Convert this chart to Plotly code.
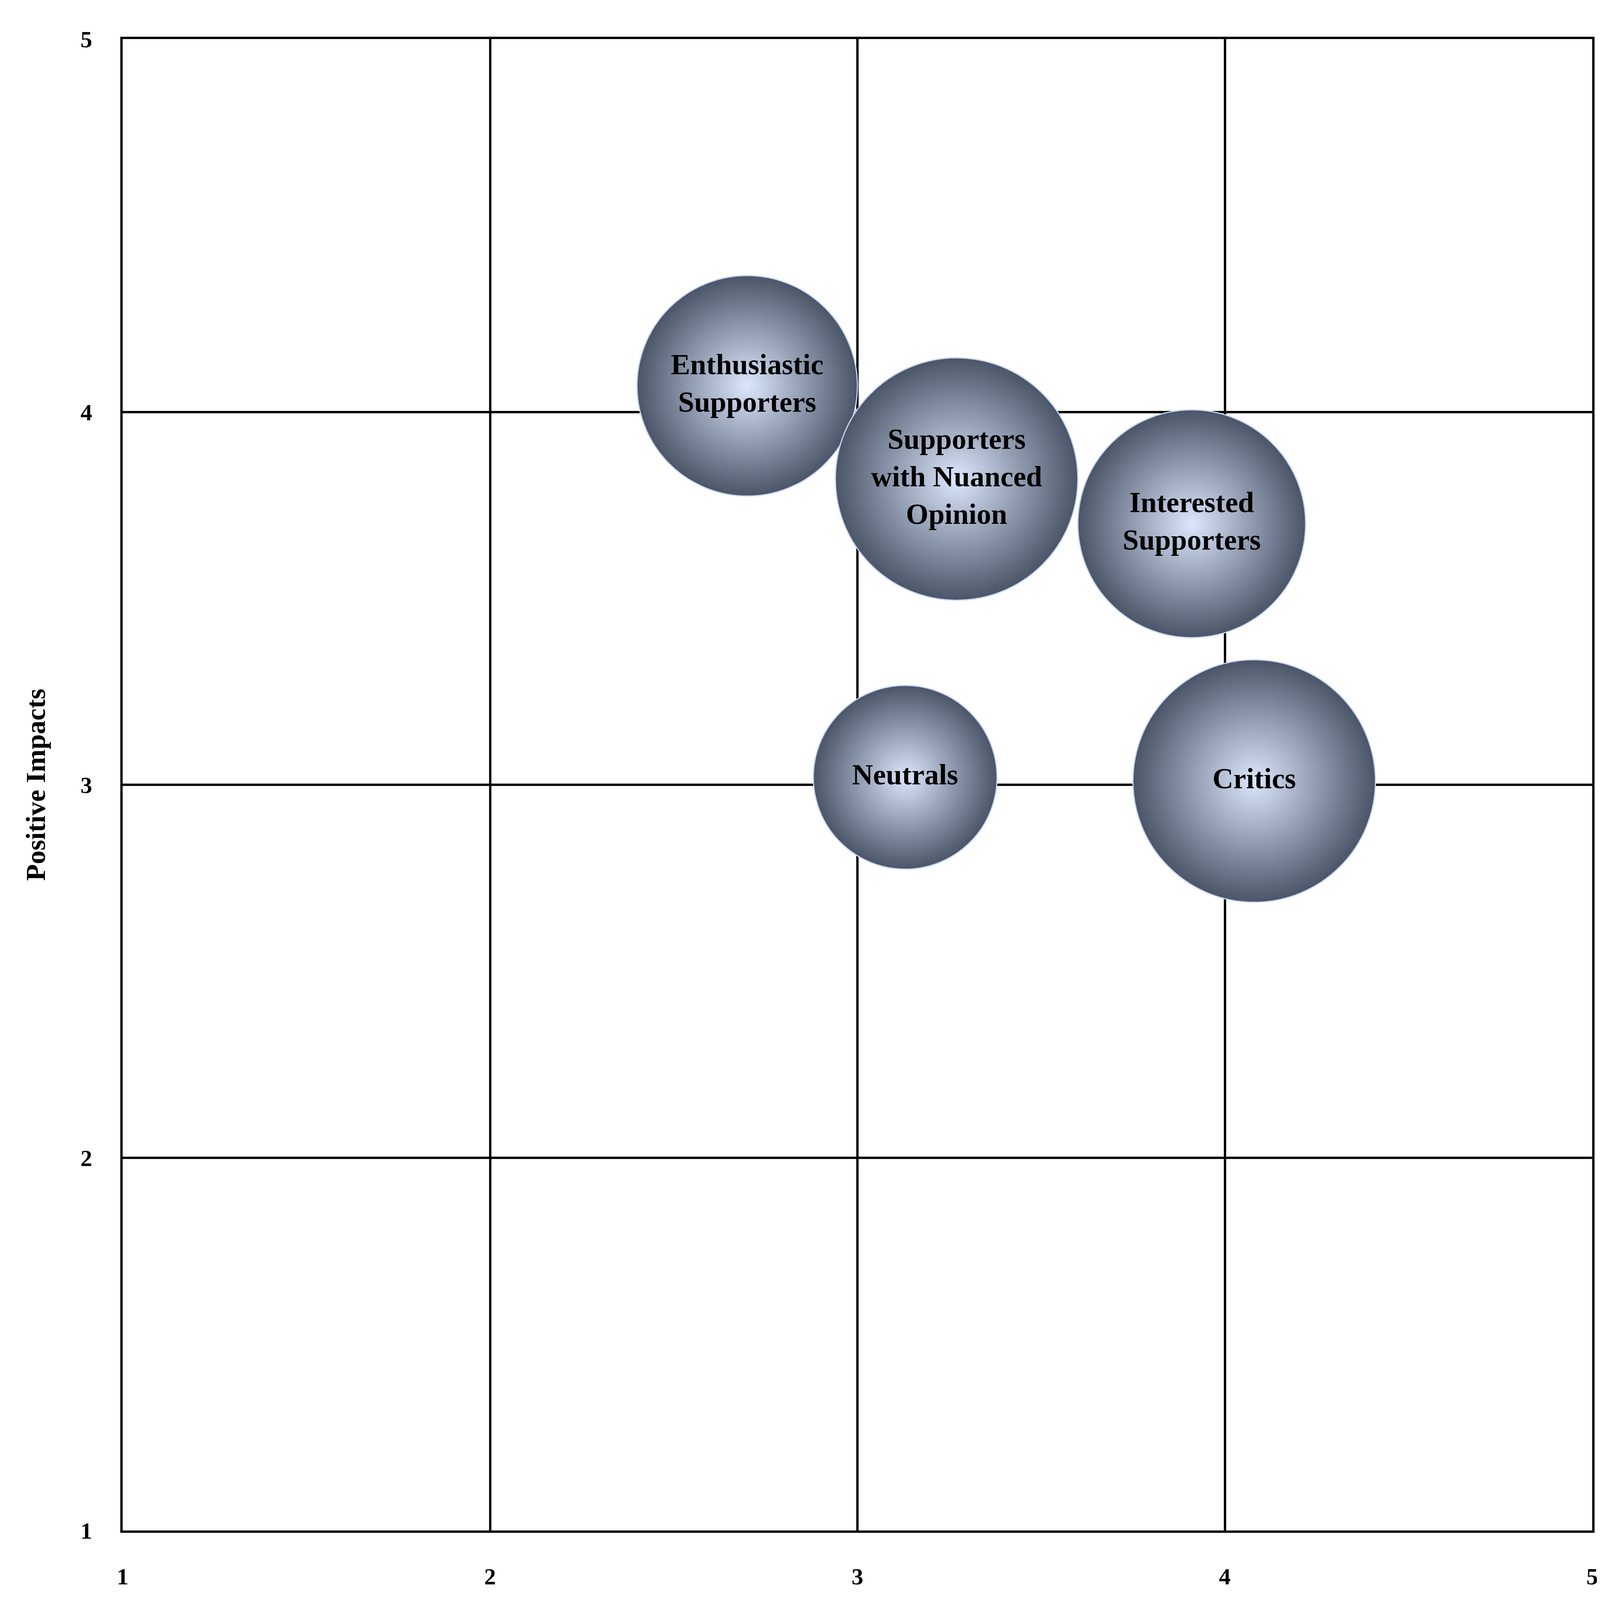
import plotly.graph_objects as go

labels = ["Enthusiastic<br>Supporters", "Supporters<br>with Nuanced<br>Opinion", "Interested<br>Supporters", "Neutrals", "Critics"]
neg = [2.70, 3.27, 3.91, 3.13, 4.08]
pos = [4.07, 3.82, 3.70, 3.02, 3.01]
radius = [0.30, 0.33, 0.31, 0.25, 0.33]  # in x-axis units

W, H = 4160, 4225
ml, mr, mt, mb = 306, 92, 92, 315
px_per_unit = (W - ml - mr) / 4.0
sizes = [2 * r * px_per_unit for r in radius]

font = "Liberation Serif"
fig = go.Figure(go.Scatter(
    x=neg, y=pos, mode="markers+text", text=labels, textposition="middle center",
    textfont=dict(family=font, size=74, color="black", weight="bold"),
    marker=dict(size=sizes, sizemode="diameter", color="#4a5568",
                gradient=dict(type="radial", color="#dce7fd"),
                line=dict(width=3, color="#c8d6f5"), opacity=1),
    hoverinfo="skip", cliponaxis=False))

ax = dict(range=[1, 5], tickvals=[1, 2, 3, 4, 5], showgrid=True, gridcolor="black", gridwidth=6,
          showline=True, linecolor="black", linewidth=6, mirror=True, zeroline=False,
          tickfont=dict(family=font, size=60, color="black", weight="bold"), ticks="")
fig.update_layout(
    width=W, height=H, margin=dict(l=ml, r=mr, t=mt, b=mb),
    plot_bgcolor="white", paper_bgcolor="white", showlegend=False,
    xaxis=dict(ax, title=dict(text="Negative Impacts", font=dict(family=font, size=70, color="black", weight="bold"), standoff=60), ticklabelstandoff=60),
    yaxis=dict(ax, title=dict(text="Positive Impacts", font=dict(family=font, size=70, color="black", weight="bold"), standoff=70), ticklabelstandoff=60),
)
fig.write_html("out.html")
